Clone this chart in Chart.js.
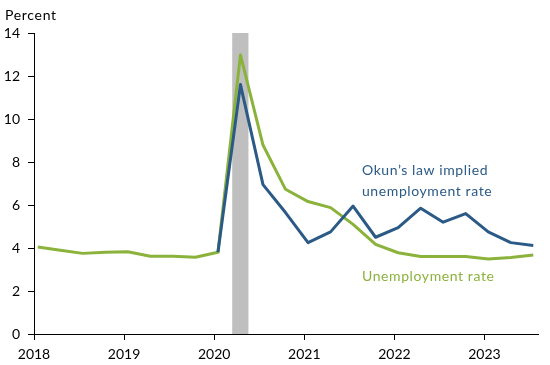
<!DOCTYPE html>
<html>
<head>
<meta charset="utf-8">
<script src="https://cdn.jsdelivr.net/npm/chart.js@4"></script>
<style>
  html, body { margin: 0; padding: 0; background: #fff; }
  #wrap { width: 550px; height: 365px; }
</style>
</head>
<body>
<div id="wrap"><canvas id="chart"></canvas></div>
<script>
/* Data */
const quarters = [
    '2018Q1', '2018Q2', '2018Q3', '2018Q4',
    '2019Q1', '2019Q2', '2019Q3', '2019Q4',
    '2020Q1', '2020Q2', '2020Q3', '2020Q4',
    '2021Q1', '2021Q2', '2021Q3', '2021Q4',
    '2022Q1', '2022Q2', '2022Q3', '2022Q4',
    '2023Q1', '2023Q2', '2023Q3'
];
const unemploymentRate = [
    4.05, 3.9, 3.75, 3.8,
    3.83, 3.62, 3.62, 3.57,
    3.8, 12.98, 8.79, 6.73,
    6.16, 5.88, 5.1, 4.17,
    3.78, 3.6, 3.6, 3.6,
    3.49, 3.56, 3.67
];
const okunImplied = [
    null, null, null, null,
    null, null, null, null,
    3.8, 11.6, 6.95, 5.65,
    4.25, 4.75, 5.95, 4.5,
    4.95, 5.85, 5.2, 5.6,
    4.75, 4.25, 4.12
];
const yearTicks = [2018, 2019, 2020, 2021, 2022, 2023];
const yTicks = [0, 2, 4, 6, 8, 10, 12, 14];
const recession = [2020.2, 2020.38];

const GREEN = '#8bb23b';
const BLUE = '#2b5a86';
const FONT = 'Lato, "Noto Sans", sans-serif';

// quarter label -> decimal year (plotted mid first month of the quarter)
function quarterToYear(q) {
    const y = parseInt(q.slice(0, 4), 10);
    const n = parseInt(q.slice(5), 10);
    return y + (n - 1) / 4 + 1 / 24;
}

const toPoints = vals => quarters.map((q, i) => ({ x: quarterToYear(q), y: vals[i] }));

/* Recession bar + text plugin */
const extras = {
    id: 'extras',
    beforeDatasetsDraw(chart) {
        const { ctx, chartArea, scales } = chart;
        const x0 = scales.x.getPixelForValue(recession[0]);
        const x1 = scales.x.getPixelForValue(recession[1]);
        ctx.save();
        ctx.fillStyle = '#bfbfbf';
        ctx.fillRect(x0, chartArea.top, x1 - x0, chartArea.bottom - chartArea.top);
        ctx.restore();
    },
    afterDraw(chart) {
        const { ctx, scales } = chart;
        ctx.save();
        ctx.font = '14px ' + FONT;
        ctx.textBaseline = 'alphabetic';
        ctx.textAlign = 'left';
        ctx.letterSpacing = '0.7px';
        ctx.fillStyle = '#000';
        ctx.fillText('Percent', 5, 20);

        ctx.letterSpacing = '0.6px';
        const lx = scales.x.getPixelForValue(2021.64);
        ctx.fillStyle = BLUE;
        ctx.fillText('Okun\u2019s law implied', lx, 175);
        ctx.fillText('unemployment rate', lx, 196);
        ctx.fillStyle = GREEN;
        ctx.fillText('Unemployment rate', lx, 281);
        ctx.restore();
    }
};

new Chart(document.getElementById('chart'), {
    type: 'line',
    data: {
        datasets: [
            {
                label: 'Okun\u2019s law implied unemployment rate',
                data: toPoints(okunImplied),
                borderColor: BLUE,
                borderWidth: 3,
                borderJoinStyle: 'round',
                pointRadius: 0,
                tension: 0,
                spanGaps: false
            },
            {
                label: 'Unemployment rate',
                data: toPoints(unemploymentRate),
                borderColor: GREEN,
                borderWidth: 3,
                borderJoinStyle: 'round',
                pointRadius: 0,
                tension: 0
            }
        ]
    },
    options: {
        responsive: true,
        maintainAspectRatio: false,
        animation: false,
        layout: { padding: { top: 33, right: 12, left: 0, bottom: 0 } },
        plugins: { legend: { display: false }, tooltip: { enabled: false } },
        scales: {
            x: {
                type: 'linear',
                min: 2018,
                max: 2023.594,
                afterBuildTicks: s => { s.ticks = yearTicks.map(v => ({ value: v })); },
                afterFit: s => { s.height = 31; },
                grid: { drawOnChartArea: false, drawTicks: true, tickLength: 6, color: '#000' },
                border: { display: true, color: '#000', width: 1 },
                ticks: {
                    padding: 6,
                    color: '#000',
                    font: { family: FONT, size: 14 },
                    maxRotation: 0,
                    callback: v => String(v)
                }
            },
            y: {
                min: 0,
                max: 14,
                afterBuildTicks: s => { s.ticks = yTicks.map(v => ({ value: v })); },
                afterFit: s => { s.width = 34; },
                grid: { drawOnChartArea: false, drawTicks: true, tickLength: 6, color: '#000' },
                border: { display: true, color: '#000', width: 1 },
                ticks: {
                    padding: 8,
                    color: '#000',
                    font: { family: FONT, size: 14 }
                }
            }
        }
    },
    plugins: [extras]
});
</script>
</body>
</html>
